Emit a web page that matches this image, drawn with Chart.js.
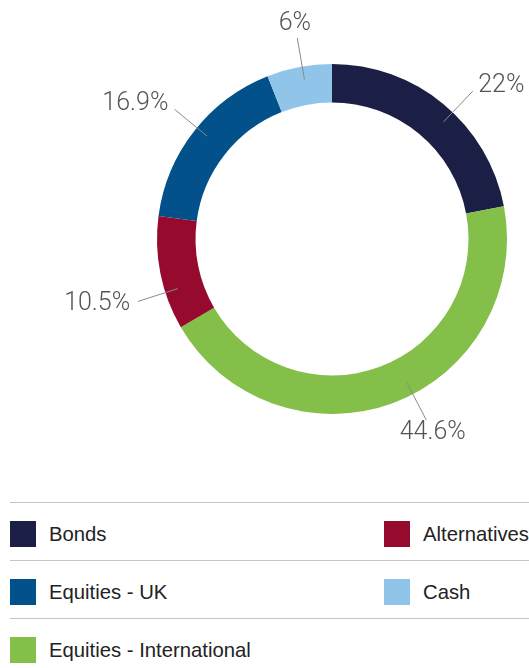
<!DOCTYPE html>
<html>
<head>
<meta charset="utf-8">
<script src="https://cdn.jsdelivr.net/npm/chart.js@4/dist/chart.umd.min.js"></script>
<style>
  body { margin: 0; width: 529px; height: 668px; overflow: hidden; background: #fff; position: relative; font-family: "Liberation Sans", Arial, sans-serif; }
  #chart-wrap { position: absolute; left: 0; top: 0; width: 529px; height: 490px; }
  #legend { position: absolute; left: 10px; top: 502px; width: 640px; }
  .row { height: 57px; border-top: 1px solid #c6c6c6; position: relative; }
  .item { position: absolute; top: 18px; height: 26px; line-height: 26px; font-size: 20.3px; color: #222; white-space: nowrap; }
  .item span.sw { position: absolute; left: 0; top: 0; width: 26px; height: 26px; }
  .item span.tx { position: absolute; left: 39px; top: 0; }
</style>
</head>
<body>
<div id="chart-wrap"><canvas id="donut"></canvas></div>
<div id="legend"></div>
<script>
// Data (clockwise from top)
const categories = ['Bonds', 'Equities - International', 'Alternatives', 'Equities - UK', 'Cash'];
const values = [22, 44.6, 10.5, 16.9, 6];
const valueLabels = ['22%', '44.6%', '10.5%', '16.9%', '6%'];
const colours = ['#1b1f46', '#84bf4a', '#960a2d', '#02518a', '#91c4e9'];
// legend reads left to right, top to bottom
const legendOrder = ['Bonds', 'Alternatives', 'Equities - UK', 'Cash', 'Equities - International'];
// small angle nudges (degrees) for the outside labels
const labelNudge = [4, -7, -6.5, 1.5, 1];

// outside labels with leader lines
const outLabels = {
    id: 'outLabels',
    afterDatasetsDraw(chart) {
        const ctx = chart.ctx;
        const meta = chart.getDatasetMeta(0);
        ctx.save();
        meta.data.forEach(function(arc, i) {
            const p = arc.getProps(['x', 'y', 'startAngle', 'endAngle', 'outerRadius'], true);
            const a = (p.startAngle + p.endAngle) / 2 + labelNudge[i] * Math.PI / 180;
            const r1 = p.outerRadius - 13, r2 = p.outerRadius + 29, r3 = p.outerRadius + 37;
            const cx = Math.cos(a), sy = Math.sin(a);
            ctx.strokeStyle = '#8a8a8a';
            ctx.lineWidth = 1;
            ctx.beginPath();
            ctx.moveTo(p.x + r1 * cx, p.y + r1 * sy);
            ctx.lineTo(p.x + r2 * cx, p.y + r2 * sy);
            ctx.stroke();
            ctx.font = '300 25px Roboto';
            ctx.fillStyle = '#555';
            ctx.textBaseline = 'middle';
            let r = r3;
            if (cx > 0.55) ctx.textAlign = 'left';
            else if (cx < -0.55) ctx.textAlign = 'right';
            else { ctx.textAlign = 'center'; r = r3 + 6; }
            ctx.fillText(valueLabels[i], p.x + r * cx, p.y + r * sy);
        });
        ctx.restore();
    }
};

new Chart(document.getElementById('donut'), {
    type: 'doughnut',
    data: {
        labels: categories,
        datasets: [{
            data: values,
            backgroundColor: colours,
            borderWidth: 0,
            hoverOffset: 0
        }]
    },
    options: {
        responsive: true,
        maintainAspectRatio: false,
        animation: false,
        cutout: '78%',
        layout: { padding: { left: 157, right: 22, top: 64, bottom: 76 } },
        plugins: {
            legend: { display: false },
            tooltip: { enabled: false }
        }
    },
    plugins: [outLabels]
});

// html legend
const legend = document.getElementById('legend');
for (let k = 0; k < legendOrder.length; k += 2) {
    const row = document.createElement('div');
    row.className = 'row';
    for (let j = 0; j < 2 && k + j < legendOrder.length; j++) {
        const name = legendOrder[k + j];
        const item = document.createElement('div');
        item.className = 'item';
        item.style.left = (j * 374) + 'px';
        item.innerHTML = '<span class="sw" style="background:' + colours[categories.indexOf(name)] + '"></span><span class="tx">' + name + '</span>';
        row.appendChild(item);
    }
    legend.appendChild(row);
}
</script>
</body>
</html>
